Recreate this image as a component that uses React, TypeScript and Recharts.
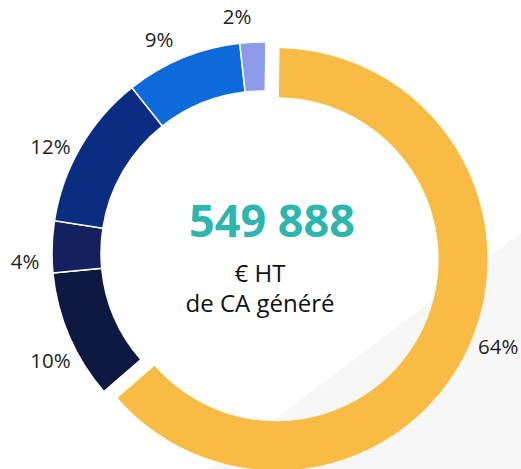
import { PieChart, Pie, Cell } from "recharts";

const labels = ["64%", "10%", "4%", "12%", "9%", "2%"];
const shares = [64, 10, 4, 12, 9, 2];
const colors = ["#F8BB43", "#0D1941", "#15215F", "#0A2D82", "#0D6ADB", "#8C9BE8"];
const totalValue = "549 888";
const subtitle = ["€ HT", "de CA généré"];

const data = shares.map((value, i) => ({ name: labels[i], value }));

const RADIAN = Math.PI / 180;
const CX = 263;
const CY = 253;
const OUTER = 211;
const INNER = 162;
const START = 89.2;
const EXPLODE = 15;
// labels in the original sit a little counter-clockwise of the slice middle
const LABEL_SHIFT = 3.5;

// mid angle of the first (yellow) slice, used to push it out a bit
const sum = shares.reduce((a, b) => a + b, 0);
const firstMid = START - ((shares[0] / 2) / sum) * 360;
const offX = EXPLODE * Math.cos(firstMid * RADIAN);
const offY = -EXPLODE * Math.sin(firstMid * RADIAN);

const renderLabel = (show: (i: number) => boolean) => (props: any) => {
  const { cx, cy, midAngle, outerRadius, index } = props;
  if (!show(index)) return null;
  const r = outerRadius + 27;
  const a = midAngle + LABEL_SHIFT;
  const x = cx + r * Math.cos(-a * RADIAN);
  const y = cy + r * Math.sin(-a * RADIAN);
  return (
    <text
      x={x}
      y={y}
      fill="#222"
      fontSize={20.5}
      fontFamily="'Open Sans', sans-serif"
      textAnchor="middle"
      dominantBaseline="central"
    >
      {labels[index]}
    </text>
  );
};

export default function App() {
  return (
    <div style={{ position: "absolute", left: 0, top: 0, width: 521, height: 469, overflow: "hidden", background: "#fff" }}>
      <svg width={521} height={469} style={{ position: "absolute", left: 0, top: 0 }}>
        <polygon points="209,469 521,233 521,469" fill="#F7F7F7" />
      </svg>
      <div style={{ position: "absolute", left: 0, top: 0 }}>
        <PieChart width={521} height={469} margin={{ top: 0, right: 0, bottom: 0, left: 0 }}>
          <Pie
            data={data}
            dataKey="value"
            cx={CX + offX}
            cy={CY + offY}
            innerRadius={INNER}
            outerRadius={OUTER}
            startAngle={START}
            endAngle={START - 360}
            isAnimationActive={false}
            labelLine={false}
            label={renderLabel((i) => i === 0)}
          >
            {data.map((d, i) => (
              <Cell key={d.name} fill={i === 0 ? colors[0] : "none"} stroke="none" />
            ))}
          </Pie>
          <Pie
            data={data}
            dataKey="value"
            cx={CX}
            cy={CY}
            innerRadius={INNER}
            outerRadius={OUTER}
            startAngle={START}
            endAngle={START - 360}
            isAnimationActive={false}
            labelLine={false}
            label={renderLabel((i) => i !== 0)}
          >
            {data.map((d, i) => (
              <Cell
                key={d.name}
                fill={i === 0 ? "none" : colors[i]}
                stroke={i === 0 ? "none" : "#fff"}
                strokeWidth={1.5}
              />
            ))}
          </Pie>
          <text x={272} y={237} textAnchor="middle" fill="#2DB6AE" fontSize={45} fontWeight={700} fontFamily="'Open Sans', sans-serif">
            {totalValue}
          </text>
          <text x={260} y={282} textAnchor="middle" fill="#111" fontSize={24} fontFamily="'Open Sans', sans-serif">
            {subtitle[0]}
          </text>
          <text x={260} y={312} textAnchor="middle" fill="#111" fontSize={24} fontFamily="'Open Sans', sans-serif">
            {subtitle[1]}
          </text>
        </PieChart>
      </div>
    </div>
  );
}
